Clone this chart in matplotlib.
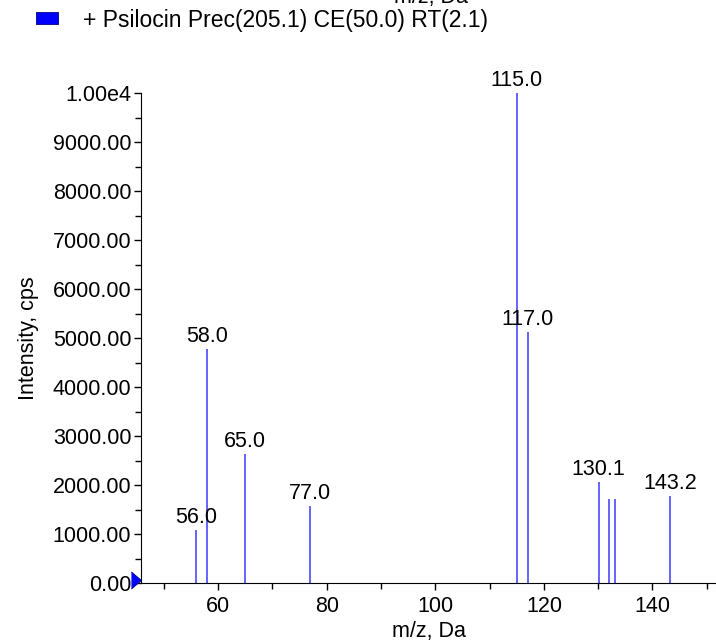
import numpy as np
import matplotlib
matplotlib.use("Agg")
import matplotlib.pyplot as plt
from matplotlib.ticker import MultipleLocator, FuncFormatter

# peaks
mz = [56.0, 58.0, 65.0, 77.0, 115.0, 117.0, 130.1, 132.0, 133.1, 143.2]
intensity = [1090, 4770, 2630, 1570, 10000, 5120, 2060, 1710, 1710, 1770]
labelled = [True, True, True, True, True, True, True, False, False, True]

legend_text = "+ Psilocin Prec(205.1) CE(50.0) RT(2.1)"
x_label = "m/z, Da"
y_label = "Intensity, cps"

plt.rcParams['font.family'] = ['Liberation Sans', 'DejaVu Sans']
fs = 15.5

W, H = 716, 641
fig = plt.figure(figsize=(W / 100, H / 100), dpi=100)
ax = fig.add_axes([141 / W, 1 - 583 / H, (W - 141) / W, (583 - 93) / H])

ax.vlines(mz, 0, intensity, color='#3a3aff', lw=1.1)
for x, y, lab in zip(mz, intensity, labelled):
    if lab:
        ax.text(x, y + 40, "%.1f" % x, ha='center', va='bottom', fontsize=fs)

ax.set_xlim(45.8, 151.7)
ax.set_ylim(0, 10000)
ax.spines['top'].set_visible(False)
ax.spines['right'].set_visible(False)

ax.xaxis.set_major_locator(MultipleLocator(20))
ax.xaxis.set_minor_locator(MultipleLocator(10))
ax.yaxis.set_major_locator(MultipleLocator(1000))
ax.yaxis.set_minor_locator(MultipleLocator(500))


def yfmt(v, pos):
    if v >= 10000:
        return "1.00e4"
    return "%.2f" % v


ax.yaxis.set_major_formatter(FuncFormatter(yfmt))
ax.tick_params(axis='both', which='major', length=5, labelsize=fs, width=1)
ax.tick_params(axis='y', which='major', pad=2)
ax.tick_params(axis='x', which='major', pad=4)
ax.tick_params(axis='both', which='minor', length=4, width=1)
ax.set_xlabel(x_label, fontsize=fs, labelpad=3)
ax.set_ylabel(y_label, fontsize=fs, labelpad=10)

# blue triangle at the origin, tip on the y axis
ax.plot([ax.get_xlim()[0]], [60], marker=[(-10, -8.5), (0, 0), (-10, 8.5)],
        color='#0000ff', markersize=14.5, clip_on=False, zorder=5,
        markeredgewidth=0.6, markeredgecolor='#000080')

# legend-like header
fig.patches.append(plt.Rectangle((36 / W, 1 - 24 / H), 22 / W, 12 / H,
                                 transform=fig.transFigure, facecolor='#0000ff',
                                 edgecolor='#000080', lw=0.6))
fig.text(83 / W, 1 - 21 / H, legend_text, fontsize=16.5, va='center', ha='left')
# axis label of the panel above, cut by the top edge
fig.text(431 / W, 1 - 3 / H, x_label, fontsize=fs, va='baseline', ha='center')

fig.savefig("out.png", dpi=100)
